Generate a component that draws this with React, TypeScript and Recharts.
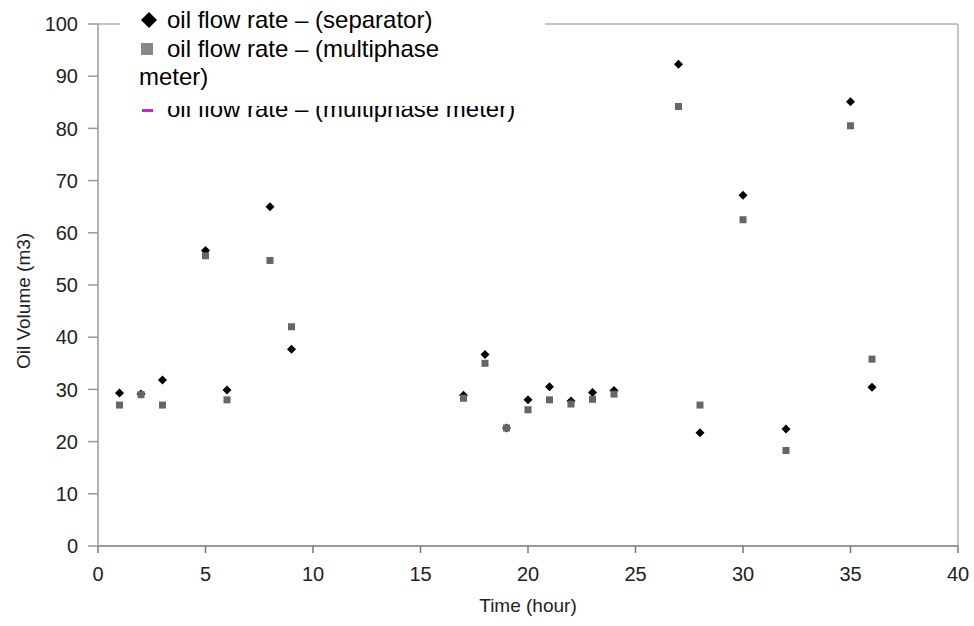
import { ScatterChart, Scatter, XAxis, YAxis, ReferenceLine, Legend } from "recharts";

const hours = [1, 2, 3, 5, 6, 8, 9, 17, 18, 19, 20, 21, 22, 23, 24, 27, 28, 30, 32, 35, 36];
const separator = [29.3, 29.1, 31.8, 56.6, 29.9, 65, 37.7, 28.9, 36.7, 22.6, 28.0, 30.5, 27.8, 29.4, 29.8, 92.3, 21.7, 67.2, 22.4, 85.1, 30.4];
const multiphase = [27.0, 29.0, 27.0, 55.6, 28.0, 54.7, 42.0, 28.3, 35.0, 22.6, 26.1, 28.0, 27.2, 28.1, 29.1, 84.2, 27.0, 62.5, 18.3, 80.5, 35.8];
const xTicks = [0, 5, 10, 15, 20, 25, 30, 35, 40];
const yTicks = [0, 10, 20, 30, 40, 50, 60, 70, 80, 90, 100];

const sepData = hours.map((h, i) => ({ x: h, y: separator[i] }));
const mpData = hours.map((h, i) => ({ x: h, y: multiphase[i] }));

const font = "'Liberation Sans', Arial, sans-serif";

const DiamondDot = (p: any) => {
  const { cx, cy } = p;
  const r = 4.5;
  return <polygon points={`${cx},${cy - r} ${cx + r},${cy} ${cx},${cy + r} ${cx - r},${cy}`} fill="#000" />;
};

const SquareDot = (p: any) => {
  const { cx, cy } = p;
  return <rect x={cx - 3.5} y={cy - 3.5} width={7} height={7} fill="#666" />;
};

// legend as in the source image: 3rd entry is partly hidden behind the box edge
const LegendBox = () => {
  const row = { position: "absolute" as const, left: 47, fontSize: 24, lineHeight: "24px", color: "#000", whiteSpace: "nowrap" as const };
  return (
    <div style={{ position: "relative", width: 425, height: 122, background: "#fff", fontFamily: font, overflow: "hidden" }}>
      <svg style={{ position: "absolute", left: 21, top: 12 }} width={18} height={18}>
        <polygon points="8,0 16,8 8,16 0,8" fill="#000" />
      </svg>
      <div style={{ ...row, top: 8 }}>oil flow rate – (separator)</div>
      <div style={{ position: "absolute", left: 21, top: 43, width: 12, height: 12, background: "#888" }} />
      <div style={{ ...row, top: 37 }}>oil flow rate – (multiphase</div>
      <div style={{ ...row, left: 19, top: 65 }}>meter)</div>
      <div style={{ position: "absolute", left: 0, top: 106, width: 425, height: 16, overflow: "hidden" }}>
        <div style={{ position: "absolute", left: 22, top: 3, width: 11, height: 3, background: "#ff00ff" }} />
        <div style={{ ...row, top: -9 }}>oil flow rate – (multiphase meter)</div>
      </div>
    </div>
  );
};

export default function App() {
  return (
    <div style={{ position: "absolute", left: 0, top: 0, background: "#fff" }}>
      <ScatterChart width={974} height={626} margin={{ top: 24, right: 16, bottom: 0, left: 38 }}>
        <XAxis
          type="number"
          dataKey="x"
          domain={[0, 40]}
          ticks={xTicks}
          height={80}
          tickSize={7}
          tickMargin={14}
          axisLine={{ stroke: "#777", strokeWidth: 1.5 }}
          tickLine={{ stroke: "#777", strokeWidth: 1.5 }}
          tick={{ fill: "#222", fontSize: 20, fontFamily: font }}
          label={{ value: "Time (hour)", position: "insideBottom", offset: 14, fill: "#222", fontSize: 19, fontFamily: font }}
        />
        <YAxis
          type="number"
          dataKey="y"
          domain={[0, 100]}
          ticks={yTicks}
          width={60}
          tickSize={10}
          tickMargin={10}
          axisLine={{ stroke: "#999", strokeWidth: 1.5 }}
          tickLine={{ stroke: "#999", strokeWidth: 1.5 }}
          tick={{ fill: "#222", fontSize: 20, fontFamily: font }}
          label={{
            content: () => (
              <text x={23} y={301} transform="rotate(-90 23 301)" textAnchor="middle" dominantBaseline="central" fill="#222" fontSize={19} fontFamily={font}>
                Oil Volume (m3)
              </text>
            ),
          }}
        />
        <ReferenceLine y={100} stroke="#c4c4c4" strokeWidth={2} />
        <ReferenceLine x={40} stroke="#c4c4c4" strokeWidth={2} />
        <Scatter name="oil flow rate – (separator)" data={sepData} shape={DiamondDot} isAnimationActive={false} />
        <Scatter name="oil flow rate – (multiphase meter)" data={mpData} shape={SquareDot} isAnimationActive={false} />
        <Legend
          layout="horizontal"
          verticalAlign="middle"
          align="center"
          content={() => <LegendBox />}
          wrapperStyle={{ position: "absolute", left: 120, top: 0, width: 425, height: 122 }}
        />
      </ScatterChart>
    </div>
  );
}
